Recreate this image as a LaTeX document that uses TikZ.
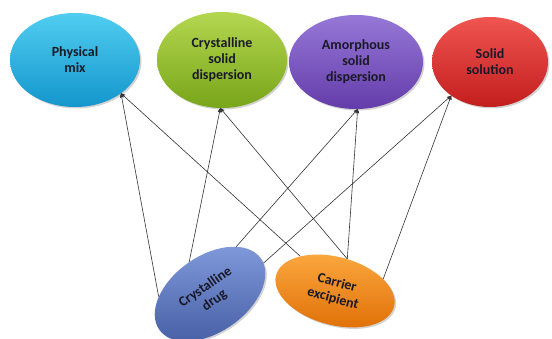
\documentclass[tikz,border=0pt]{standalone}
\usepackage{fontspec}
\setmainfont{Carlito}
\usepackage{tikz}
\usetikzlibrary{arrows}
\usetikzlibrary{shapes.geometric}
\usetikzlibrary{shadows}

\definecolor{cyanA}{RGB}{80,205,240}
\definecolor{cyanB}{RGB}{20,150,205}
\definecolor{greenA}{RGB}{180,215,80}
\definecolor{greenB}{RGB}{120,165,25}
\definecolor{purpA}{RGB}{150,120,215}
\definecolor{purpB}{RGB}{100,60,170}
\definecolor{redA}{RGB}{240,85,80}
\definecolor{redB}{RGB}{195,30,30}
\definecolor{blueA}{RGB}{130,155,220}
\definecolor{blueB}{RGB}{70,95,165}
\definecolor{orangeA}{RGB}{252,170,65}
\definecolor{orangeB}{RGB}{225,115,10}
\definecolor{txt}{RGB}{25,25,40}
\definecolor{link}{RGB}{50,50,55}

\begin{document}
\begin{tikzpicture}[x=1pt, y=1pt,
		blob/.style={ellipse, inner sep=0pt, align=center, text=txt,
			font=\fontsize{14}{16}\selectfont\bfseries,
			drop shadow={shadow xshift=1.5pt, shadow yshift=-1.5pt, fill=black!35}},
		link/.style={->, >=stealth', color=link, line width=0.6pt}]
		\useasboundingbox (0, 0) rectangle (552, 339);
		\node [blob, minimum width=130, minimum height=94, top color=cyanA, bottom color=cyanB] (phys) at (75, 279) {Physical\\mix};
		\node [blob, minimum width=130, minimum height=96, top color=greenA, bottom color=greenB] (cryst) at (222, 279) {Crystalline\\solid\\dispersion};
		\node [blob, minimum width=134, minimum height=94, top color=purpA, bottom color=purpB] (amorph) at (356, 277) {Amorphous\\solid\\dispersion};
		\node [blob, minimum width=116, minimum height=90, top color=redA, bottom color=redB] (solsol) at (490, 277) {Solid\\solution};
		\node [blob, rotate=35, minimum width=124, minimum height=76, top color=blueA, bottom color=blueB] (drug) at (210, 45) {Crystalline\\drug};
		\node [blob, rotate=-15, minimum width=122, minimum height=68, top color=orangeA, bottom color=orangeB] (carrier) at (335, 48) {Carrier\\excipient};
		% links from the drug
		\draw [link] (drug.148) -- (phys.-36);
		\draw [link] (drug.88) -- (cryst.268);
		\draw [link] (drug.26) -- (amorph.272);
		\draw [link] (drug.-5) -- (solsol.221);
		% links from the carrier
		\draw [link] (carrier.150) -- (phys.-36);
		\draw [link] (carrier.84) -- (cryst.268);
		\draw [link] (carrier.84) -- (amorph.272);
		\draw [link] (carrier.29) -- (solsol.221);
	\end{tikzpicture}
\end{document}
